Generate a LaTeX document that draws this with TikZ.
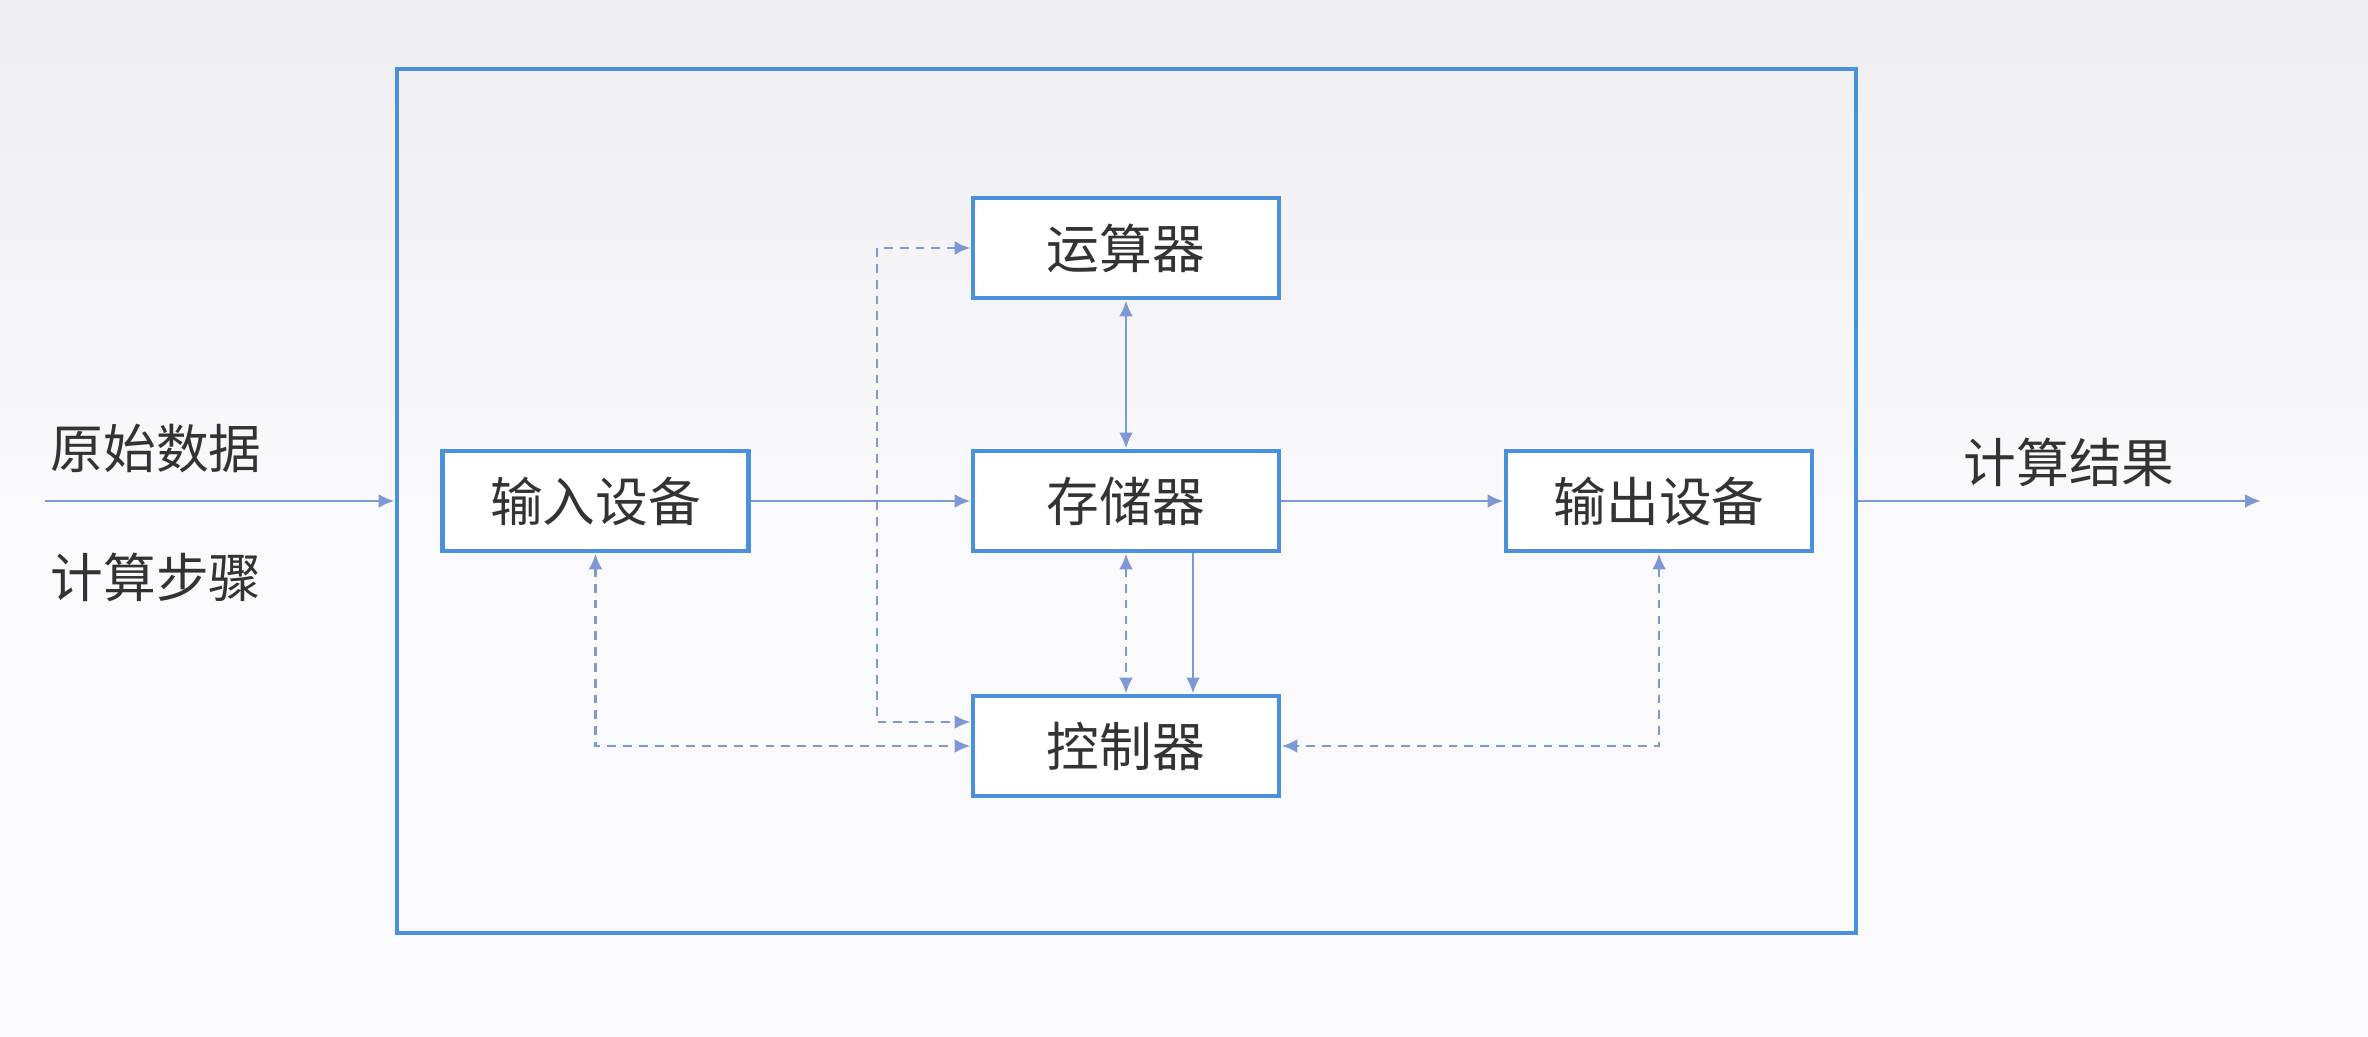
\documentclass[tikz,border=0pt]{standalone}
\usepackage{fontspec}
\newfontfamily\cjk{Noto Sans CJK SC}
\usepackage{tikz}
\usetikzlibrary{arrows.meta,calc}
\tikzset{>={Latex[length=1.6mm,width=1.4mm]}}
\definecolor{frm}{HTML}{4A90DA}
\definecolor{lnk}{HTML}{7F98D5}
\definecolor{txt}{HTML}{333333}
\definecolor{bgtop}{HTML}{EEEEF1}
\definecolor{bgbot}{HTML}{FAFAFC}
\tikzset{
  unit/.style={draw=frm,line width=1.4pt,fill=white,minimum width=3.06cm,
    minimum height=1.0cm,inner sep=0pt,text=txt,font=\cjk\fontsize{15}{18}\selectfont},
  lbl/.style={text=txt,font=\cjk\fontsize{15}{18}\selectfont},
  data/.style={draw=lnk,line width=0.8pt},
  ctl/.style={draw=lnk,line width=0.8pt,dash pattern=on 2.5pt off 2pt},
}

\begin{document}
\begin{tikzpicture}
\shade[top color=bgtop,bottom color=bgbot,middle color=bgbot] (0,0) rectangle (23.68,10.36);
\useasboundingbox (0,0) rectangle (23.68,10.36);
% host frame
\node[draw=frm,line width=1.4pt,minimum width=14.59cm,minimum height=8.64cm,inner sep=0pt]
  (host) at (11.265,5.35) {};
% units
\node[unit] (alu)  at (11.26,7.88) {运算器};
\node[unit] (mem)  at (11.26,5.35) {存储器};
\node[unit] (cu)   at (11.26,2.90) {控制器};
\node[unit] (inp)  at (5.955,5.35) {输入设备};
\node[unit] (outp) at (16.59,5.35) {输出设备};
% outside labels
\node[lbl] (raw)   at (1.56,5.87) {原始数据};
\node[lbl] (steps) at (1.56,4.59) {计算步骤};
\node[lbl] (res)   at (20.69,5.74) {计算结果};
\coordinate (src) at (0.45,5.35);
\coordinate (dst) at (22.61,5.35);
\coordinate (bus) at (8.77,3.14);
% data flow
\draw[data,->] (src) -- (host.west);
\draw[data,->] (host.east) -- (dst);
\draw[data,->] (inp) -- (mem);
\draw[data,->] (mem) -- (outp);
\draw[data,<->] (alu) -- (mem);
\draw[data,->] ([xshift=6.7mm]mem.south) -- ([xshift=6.7mm]cu.north);
% control flow
\draw[ctl,<->] (mem) -- (cu);
\draw[ctl,<->] (inp) |- (cu);
\draw[ctl,<->] (outp) |- (cu);
\draw[ctl,<->] (alu.west) -| (bus) -- (bus -| cu.west);
\end{tikzpicture}
\end{document}
